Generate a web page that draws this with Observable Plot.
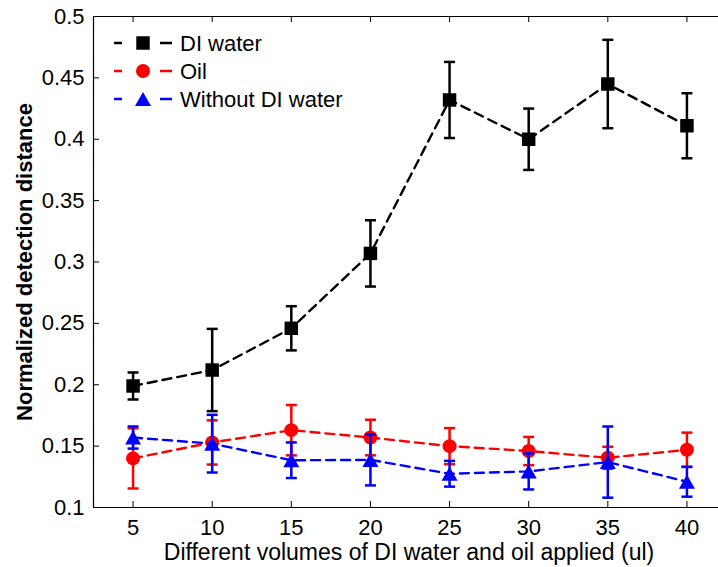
<!DOCTYPE html>
<html><head><meta charset="utf-8">
<script src="https://cdn.jsdelivr.net/npm/d3@7"></script>
<script src="https://cdn.jsdelivr.net/npm/@observablehq/plot@0.6"></script>
<style>
body{margin:0;background:#fff;}
#wrap{position:relative;width:718px;height:567px;overflow:hidden;font-family:"Liberation Sans",Arial,Helvetica,sans-serif;}
#legend{position:absolute;left:0;top:0;pointer-events:none;}
</style></head><body><div id="wrap"></div>
<script>
// ---- data ----
const volumes = [5, 10, 15, 20, 25, 30, 35, 40];
const diWater = [0.199, 0.212, 0.246, 0.307, 0.432, 0.400, 0.445, 0.411];
const diWaterErr = [0.011, 0.0335, 0.018, 0.027, 0.031, 0.025, 0.036, 0.0265];
const oil = [0.140, 0.153, 0.163, 0.157, 0.150, 0.146, 0.1405, 0.147];
const oilErr = [0.0245, 0.018, 0.0205, 0.0145, 0.0147, 0.0115, 0.009, 0.014];
const withoutDI = [0.157, 0.152, 0.1385, 0.1388, 0.1275, 0.1294, 0.137, 0.121];
const withoutDIErr = [0.009, 0.0235, 0.0145, 0.0208, 0.0105, 0.0147, 0.029, 0.0122];
const seriesNames = ["DI water", "Oil", "Without DI water"];
const seriesColors = ["#000000", "#ff0000", "#0000ff"];
const xTicks = [5, 10, 15, 20, 25, 30, 35, 40];
const yTicks = [0.1, 0.15, 0.2, 0.25, 0.3, 0.35, 0.4, 0.45, 0.5];
const xLabel = "Different volumes of DI water and oil applied (ul)";
const yLabel = "Normalized detection distance";

// ---- layout ----
const W = 718, H = 567, mL = 93, mT = 16, mB = 60, mR = 0;
const xRange = [93, 726];
const innerW = W - mL - mR, innerH = H - mT - mB;

// custom symbols
const triSym = {draw(ctx, size) { const r = Math.sqrt(size / Math.PI); ctx.moveTo(0, -r * 0.88); ctx.lineTo(r, r * 0.88); ctx.lineTo(-r, r * 0.88); ctx.closePath(); }};
const capSym = {draw(ctx, size) { const r = Math.sqrt(size / Math.PI); ctx.moveTo(-r, 0); ctx.lineTo(r, 0); }};
const markerSyms = ["square", "circle", triSym];
const markerR = [7.6, 7, 8];

const seriesVals = [diWater, oil, withoutDI];
const seriesErrs = [diWaterErr, oilErr, withoutDIErr];

const marks = [];
seriesNames.forEach((name, s) => {
  const rows = volumes.map((v, i) => ({series: name, x: v, y: seriesVals[s][i], lo: seriesVals[s][i] - seriesErrs[s][i], hi: seriesVals[s][i] + seriesErrs[s][i]}));
  const c = seriesColors[s];
  marks.push(Plot.line(rows, {x: "x", y: "y", stroke: c, strokeWidth: 2.4, strokeDasharray: "9,6"}));
  marks.push(Plot.ruleX(rows, {x: "x", y1: "lo", y2: "hi", stroke: c, strokeWidth: 2.5}));
  marks.push(Plot.dot(rows, {x: "x", y: "lo", symbol: capSym, r: 5.5, stroke: c, fill: "none", strokeWidth: 2.5}));
  marks.push(Plot.dot(rows, {x: "x", y: "hi", symbol: capSym, r: 5.5, stroke: c, fill: "none", strokeWidth: 2.5}));
  marks.push(Plot.dot(rows, {x: "x", y: "y", symbol: markerSyms[s], r: markerR[s], fill: c, stroke: "none"}));
});

const chart = Plot.plot({
  width: W, height: H,
  marginLeft: mL, marginTop: mT, marginBottom: mB, marginRight: mR,
  style: {fontFamily: '"Liberation Sans", Arial, Helvetica, sans-serif', fontSize: "22px", background: "#fff", color: "#000"},
  x: {domain: [2.5, 42.5], range: xRange},
  y: {domain: [0.1, 0.5]},
  marks: [
    Plot.ruleY([0.1, 0.5], {stroke: "#000", strokeWidth: 1.2}),
    Plot.ruleX([2.5], {stroke: "#000", strokeWidth: 1.2}),
    Plot.tickX(xTicks, {x: d => d, insetTop: innerH - 6, stroke: "#000", strokeWidth: 1}),
    Plot.tickX(xTicks, {x: d => d, insetBottom: innerH - 6, stroke: "#000", strokeWidth: 1}),
    Plot.tickY(yTicks, {y: d => d, insetRight: innerW - 6, stroke: "#000", strokeWidth: 1}),
    Plot.axisX({ticks: xTicks, tickSize: 0, tickPadding: 12, fontSize: 22, label: null}),
    Plot.axisY({ticks: yTicks, tickSize: 0, tickPadding: 9, fontSize: 22, label: null, tickFormat: d => String(+d.toFixed(2))}),
    Plot.text([xLabel], {frameAnchor: "bottom", textAnchor: "middle", dx: 3, dy: 45, fontSize: 23, lineAnchor: "middle", fill: "#000"}),
    Plot.text([yLabel], {frameAnchor: "left", textAnchor: "middle", dx: -69, rotate: -90, fontSize: 22, fontWeight: "bold", lineAnchor: "middle", fill: "#000"}),
    ...marks
  ]
});
const wrap = document.getElementById("wrap");
wrap.appendChild(chart);

// ---- legend overlay ----
const leg = d3.select(wrap).append("svg").attr("id", "legend").attr("width", W).attr("height", H);
const rowY = [43, 71, 99];
seriesNames.forEach((name, s) => {
  const g = leg.append("g").attr("transform", `translate(0,${rowY[s]})`);
  g.append("line").attr("x1", 114).attr("x2", 172).attr("y1", 0).attr("y2", 0)
    .attr("stroke", seriesColors[s]).attr("stroke-width", 2.4).attr("stroke-dasharray", "8,38,12");
  g.append("path").attr("transform", "translate(143,0)")
    .attr("d", d3.symbol(typeof markerSyms[s] === "string" ? (markerSyms[s] === "square" ? d3.symbolSquare : d3.symbolCircle) : markerSyms[s], markerR[s] * markerR[s] * Math.PI)())
    .attr("fill", seriesColors[s]);
  g.append("text").attr("x", 180).attr("y", 0).attr("dy", "0.35em")
    .attr("font-size", 22).attr("fill", "#000").text(name);
});
</script></body></html>
